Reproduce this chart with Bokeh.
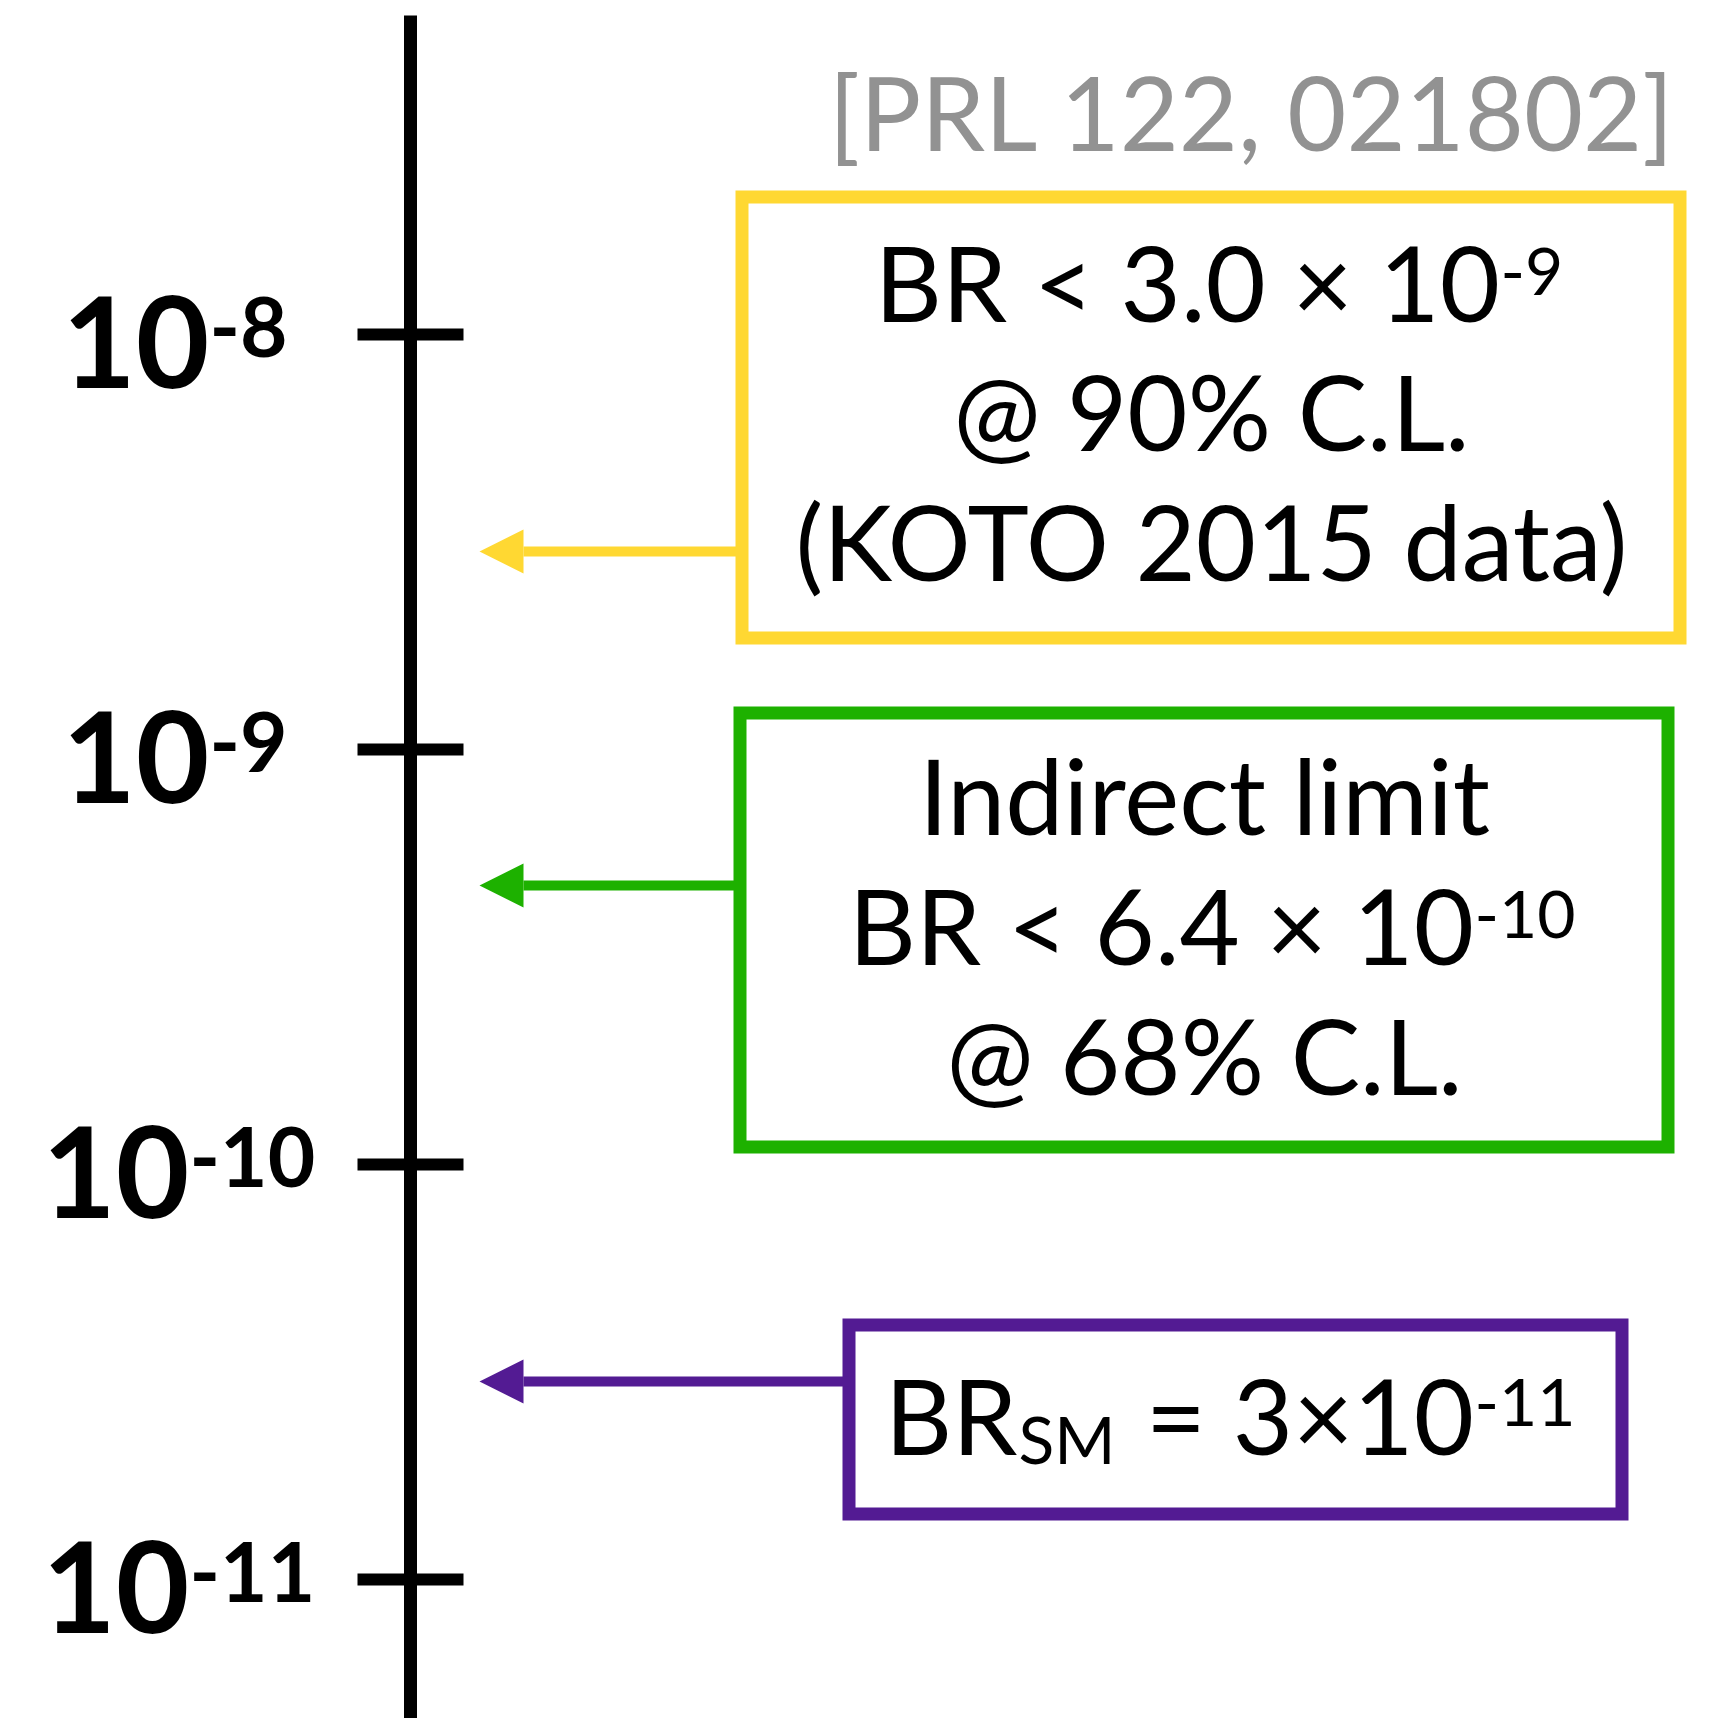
from bokeh.plotting import figure
from bokeh.models import Range1d, LinearScale, Arrow, NormalHead
from bokeh.core.properties import value
from bokeh.embed import file_html
from bokeh.resources import INLINE

# ---- data -------------------------------------------------------------
tick_values = [1e-8, 1e-9, 1e-10, 1e-11]          # labelled decades on the BR axis
tick_base = ["10", "10", "10", "10"]
tick_expo = ["-8", "-9", "-10", "-11"]
limit_names = ["KOTO 2015", "Indirect", "SM"]
limit_values = [3.0e-9, 4.7e-10, 3.0e-11]         # arrow heights
limit_colors = ["#FFD832", "#1DB100", "#531B93"]
reference_text = "[PRL 122, 021802]"
koto_lines = ["BR < 3.0 × 10", "-9", "@ 90% C.L.", "(KOTO 2015 data)"]
indirect_lines = ["Indirect limit", "BR < 6.4 × 10", "-10", "@ 68% C.L."]
sm_parts = ["BR", "SM", "= 3×10", "-11"]

# ---- layout -----------------------------------------------------------
FONT = "Lato"
W, H = 1721, 1718
AXIS_X = 410
LOG_TOP, LOG_BOTTOM = -7.19518, -11.33494     # log10 range spanning the canvas
AXIS_TOP = 10 ** -7.2313
label_junction_x = [209, 209, 189, 189]
K = 0.38   # baseline correction (fraction of font size)

p = figure(width=W, height=H, output_backend="svg", toolbar_location=None,
           x_range=Range1d(0, W),
           y_range=Range1d(10 ** LOG_BOTTOM, 10 ** LOG_TOP), y_axis_type="log",
           x_axis_location=None, y_axis_location=None,
           min_border_left=0, min_border_right=0,
           min_border_top=0, min_border_bottom=0)
p.extra_y_ranges = {"px": Range1d(H, 0)}
p.extra_y_scales = {"px": LinearScale()}
p.grid.visible = False
p.outline_line_color = None
p.background_fill_color = "white"
p.border_fill_color = "white"

# axis line and ticks
p.segment(x0=[AXIS_X], y0=[AXIS_TOP], x1=[AXIS_X], y1=[10 ** LOG_BOTTOM],
          line_color="black", line_width=13, line_cap="butt")
p.segment(x0=[AXIS_X - 53] * len(tick_values), x1=[AXIS_X + 53] * len(tick_values),
          y0=tick_values, y1=tick_values, line_color="black", line_width=12, line_cap="butt")

BASE_SIZE, EXPO_SIZE = 127, 82
p.text(x=label_junction_x, y=tick_values, text=tick_base,
       text_font=value(FONT), text_font_style="bold", text_font_size=f"{BASE_SIZE}px",
       text_align="right", text_baseline="alphabetic", text_color="black",
       y_offset=56 - K * BASE_SIZE)
p.text(x=label_junction_x, y=tick_values, text=tick_expo,
       text_font=value(FONT), text_font_style="bold", text_font_size=f"{EXPO_SIZE}px",
       text_align="left", text_baseline="alphabetic", text_color="black",
       y_offset=24 - K * EXPO_SIZE)


def txt(x, y, s, size, align="left", color="black"):
    p.text(x=[x], y=[y - K * size], text=[s], y_range_name="px",
           text_font=value(FONT), text_font_size=f"{size}px",
           text_align=align, text_baseline="alphabetic", text_color=color)


# boxes (pixel layout)
boxes = [(741.5, 1679.5, 196.5, 637.5), (739.5, 1667.5, 712.5, 1146.5), (848.5, 1621.5, 1324.5, 1513.5)]
for (l, r, t, b), c in zip(boxes, limit_colors):
    p.quad(left=[l], right=[r], top=[t], bottom=[b], y_range_name="px",
           fill_color=None, line_color=c, line_width=13, line_join="miter")

# arrows pointing at the axis, heights from data
for (l, r, t, b), c, v in zip(boxes, limit_colors, limit_values):
    p.add_layout(Arrow(x_start=l, y_start=v, x_end=479, y_end=v,
                       line_color=c, line_width=10,
                       end=NormalHead(size=44, fill_color=c, line_color=c, line_width=0)))

MAIN, SUP, SUB = 104, 66, 66
txt(1676, 150, reference_text, 102, align="right", color="#929292")
# KOTO box
txt(1499.5, 320.5, koto_lines[0], MAIN, align="right")
txt(1500, 296, koto_lines[1], SUP)
txt(1211, 450, koto_lines[2], MAIN, align="center")
txt(1211, 579.5, koto_lines[3], MAIN, align="center")
# Indirect box
txt(1204, 834, indirect_lines[0], MAIN, align="center")
txt(1473.5, 964, indirect_lines[1], MAIN, align="right")
txt(1474, 939, indirect_lines[2], SUP)
txt(1204, 1094, indirect_lines[3], MAIN, align="center")
# SM box
txt(1017, 1454, sm_parts[0], MAIN, align="right")
txt(1018, 1463, sm_parts[1], SUB)
txt(1473.5, 1454, sm_parts[2], MAIN, align="right")
txt(1474, 1427, sm_parts[3], SUP)

open("out.html", "w").write(file_html(p, INLINE))
